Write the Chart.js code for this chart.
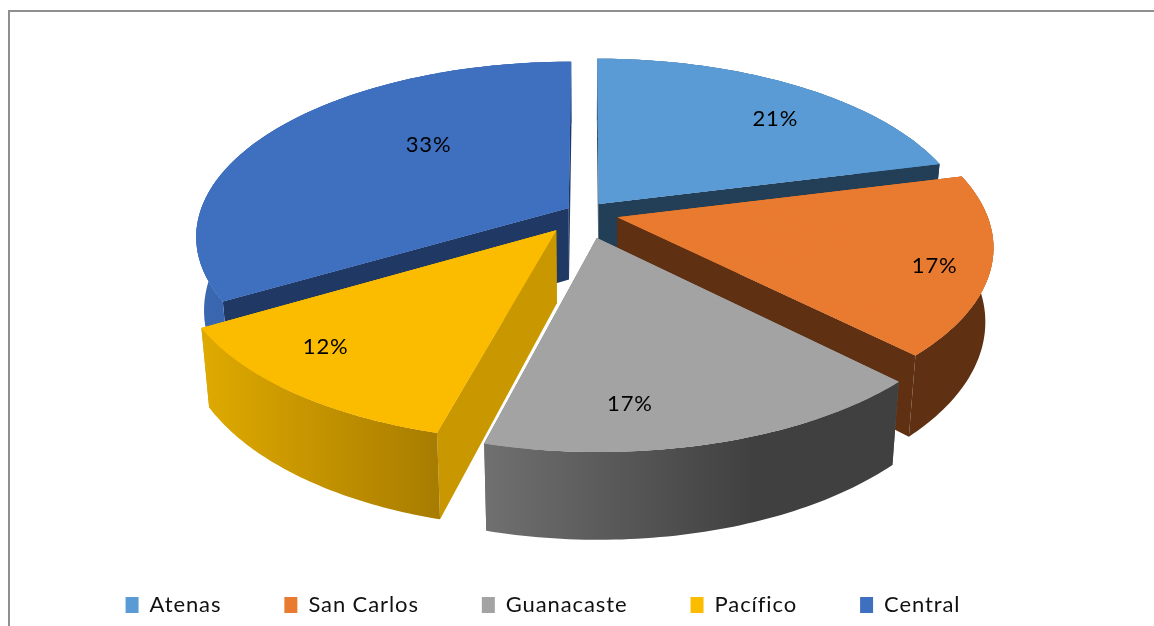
<!DOCTYPE html>
<html><head><meta charset="utf-8">
<style>
html,body{margin:0;padding:0;background:#fff;overflow:hidden}
#frame{position:absolute;left:8px;top:10px;width:1146px;height:616px;border-left:2px solid #8f8f8f;border-top:2px solid #8f8f8f;box-sizing:border-box}
canvas{position:absolute;left:0;top:0}
</style>
<script src="https://cdn.jsdelivr.net/npm/chart.js@4/dist/chart.umd.min.js"></script>
</head><body>
<div id="frame"></div>
<canvas id="c" width="1154" height="626"></canvas>
<script>
const categories = ["Atenas","San Carlos","Guanacaste","Pacífico","Central"];
const percentages = [21,16.5,16.5,12.4,33.4];
const topColors = ["#5B9BD5","#E97B30","#A3A3A3","#FBBC00","#3F70C0"];
const cutColors = ["#223F57","#5F3012","#5F5F5F","#C99700","#1F3864"];
const wallLeft = ["#223F57","#5F3012","#707070","#DFAA00","#3A68B2"];
const wallRight = ["#223F57","#5F3012","#404040","#A87C00","#2A4C85"];
const explodeX = [0.032,0.082,0.026,-0.082,-0.05];
const explodeY = [-0.071,0.007,0.125,0.082,-0.047];
const labelRadius = [0.76,0.86,0.81,0.81,0.57];
const labelFraction = [0.58,0.55,0.665,0.62,0.62];

const view = {cx:587,cy:216,rx:370,ry:172,persp:0.16,depth:72,bottomScale:0.98};
const project=(u,v)=>{const f=1/(1-v*view.persp);return {x:view.cx+u*view.rx*f,y:view.cy+v*view.ry*f,f};};
const lower=q=>({x:view.cx+(q.x-view.cx)*view.bottomScale,y:q.y+view.depth*q.f});
const SPACING='0.9px';

function drawWedge(ctx,arc,p,t1,t2,R,A,ux,uy){
  const B=project(ux+Math.cos(t1),uy+Math.sin(t1)), C=project(ux+Math.cos(t2),uy+Math.sin(t2));
  const a1=[R*Math.cos(t1),R*Math.sin(t1)], a2=[R*Math.cos(t2),R*Math.sin(t2)];
  const det=a1[0]*a2[1]-a2[0]*a1[1];
  const b1=[B.x-A.x,B.y-A.y], b2=[C.x-A.x,C.y-A.y];
  const ma=(b1[0]*a2[1]-b2[0]*a1[1])/det, mc=(-b1[0]*a2[0]+b2[0]*a1[0])/det;
  const mb=(b1[1]*a2[1]-b2[1]*a1[1])/det, md=(-b1[1]*a2[0]+b2[1]*a1[0])/det;
  ctx.save();
  ctx.transform(ma,mb,mc,md,A.x-ma*p.x-mc*p.y,A.y-mb*p.x-md*p.y);
  arc.startAngle=t1;arc.endAngle=t2;arc.circumference=t2-t1;
  arc.draw(ctx);
  ctx.restore();
}

const pie3d={
  id:'pie3d',
  beforeLayout(c){c.ctx.letterSpacing=SPACING;},
  beforeDraw(c){c.ctx.letterSpacing=SPACING;},
  beforeDatasetDraw(chart){
    const ctx=chart.ctx, arcs=chart.getDatasetMeta(0).data;
    const slices=arcs.map((arc,i)=>{
      const p={x:arc.x,y:arc.y,startAngle:arc.startAngle,endAngle:arc.endAngle,outerRadius:arc.outerRadius,circumference:arc.circumference};
      const m=(p.startAngle+p.endAngle)/2;
      const ux=explodeX[i], uy=explodeY[i];
      const A=project(ux,uy);
      const rim=t=>project(ux+Math.cos(t),uy+Math.sin(t));
      return {arc,i,p,m,ux,uy,A,rim,R:p.outerRadius,order:Math.sin(m)};
    }).sort((a,b)=>a.order-b.order);

    for(const s of slices){
      const {p,A,i}=s, LA=lower(A);
      for(const t of [p.startAngle,p.endAngle]){
        const r=s.rim(t), Lr=lower(r);
        ctx.fillStyle=cutColors[i];
        ctx.beginPath();ctx.moveTo(A.x,A.y);ctx.lineTo(r.x,r.y);ctx.lineTo(Lr.x,Lr.y);ctx.lineTo(LA.x,LA.y);ctx.closePath();ctx.fill();
      }
      const N=60, top=[], bot=[];
      for(let k=0;k<=N;k++){
        const r=s.rim(p.startAngle+(p.endAngle-p.startAngle)*k/N);
        top.push(r);bot.push(lower(r));
      }
      const xs=top.map(q=>q.x), x0=Math.min(...xs), x1=Math.max(...xs);
      const g=ctx.createLinearGradient(x0,0,x1,0);
      g.addColorStop(0,wallLeft[i]);g.addColorStop(i===2?0.65:1,wallRight[i]);if(i===2)g.addColorStop(1,wallRight[i]);
      ctx.fillStyle=g;
      ctx.beginPath();top.forEach((q,k)=>k?ctx.lineTo(q.x,q.y):ctx.moveTo(q.x,q.y));
      bot.slice().reverse().forEach(q=>ctx.lineTo(q.x,q.y));ctx.closePath();ctx.fill();
      // base coat under the projected library arcs, hides hairline seams between wedges
      ctx.fillStyle=topColors[i];
      ctx.beginPath();ctx.moveTo(A.x,A.y);top.forEach(q=>ctx.lineTo(q.x,q.y));ctx.closePath();ctx.fill();
      const W=16, step=(p.endAngle-p.startAngle)/W;
      for(let k=0;k<W;k++){
        const t1=p.startAngle+step*k, t2=k===W-1?p.endAngle:t1+step*1.15;
        drawWedge(ctx,s.arc,p,t1,t2,s.R,A,s.ux,s.uy);
      }
      s.arc.startAngle=p.startAngle;s.arc.endAngle=p.endAngle;s.arc.circumference=p.circumference;
    }
    ctx.save();
    ctx.fillStyle='#000';ctx.font='22px Lato';ctx.textAlign='center';ctx.textBaseline='middle';
    for(const s of slices){
      const r=labelRadius[s.i], t=s.p.startAngle+(s.p.endAngle-s.p.startAngle)*labelFraction[s.i];
      const q=project(s.ux+r*Math.cos(t),s.uy+r*Math.sin(t));
      ctx.fillText(Math.round(percentages[s.i])+'%',q.x,q.y);
    }
    ctx.restore();
    return false;
  }
};

new Chart(document.getElementById('c'),{
  type:'pie',
  data:{labels:categories,datasets:[{data:percentages,backgroundColor:topColors,borderWidth:0}]},
  options:{
    responsive:false,animation:false,
    layout:{padding:{right:68,bottom:0}},
    plugins:{
      tooltip:{enabled:false},
      legend:{position:'bottom',labels:{boxWidth:13,boxHeight:16,padding:63,color:'#111',font:{family:'Lato',size:22}}}
    }
  },
  plugins:[pie3d]
});
</script>
</body></html>
